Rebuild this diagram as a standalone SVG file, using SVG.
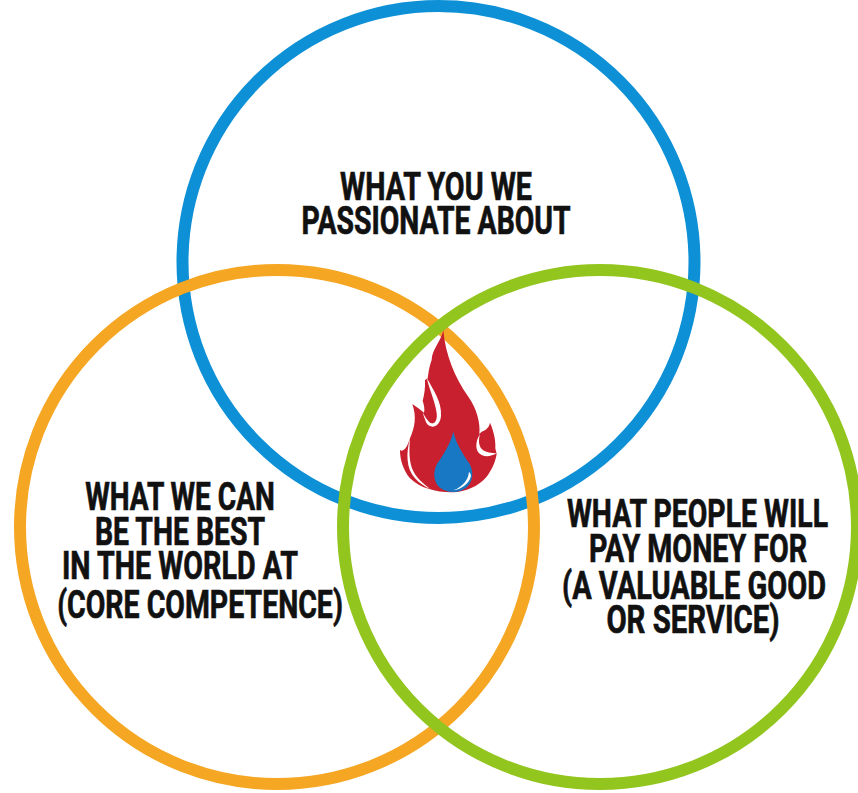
<svg xmlns="http://www.w3.org/2000/svg" width="858" height="793" viewBox="0 0 858 793">
<style>
.ring{fill:none;stroke-width:12}
.t{font-family:"Roboto","Liberation Sans",sans-serif;font-weight:700;font-size:39px;fill:#111;stroke:#111;stroke-width:.7;text-anchor:middle}
.w{fill:#fff}
</style>
<rect width="858" height="793" fill="#fff"/>
<g id="connectors"/>
<g id="node-passion"><circle class="ring" cx="438.500" cy="262" r="256" stroke="#0d90d6"/></g>
<g id="node-best"><circle class="ring" cx="277" cy="527" r="257" stroke="#f5a623"/></g>
<g id="node-money"><circle class="ring" cx="600" cy="527" r="257" stroke="#93c51f"/></g>
<g id="flame" transform="translate(380 310) scale(.3333)">
<path fill="#c8202f" d="M190 60C195 130 225 205 265 260C290 295 302 340 298 372L305 365C320 360 328 350 330 338C340 360 348 390 346 415C348 425 350 430 350 432C345 460 335 480 320 500C295 530 255 545 220 547C170 548 120 535 90 505C70 480 60 450 60 420C72 428 82 410 90 385C105 350 110 320 97 282C108 290 120 298 132 308C135 298 132 285 128 272C133 255 136 235 135 210L143 205C148 170 150 165 155 150C155 120 185 90 190 60Z"/>
<path class="w" d="M140 203C160 240 186 275 183 318C180 352 152 358 140 340C136 332 132 320 128 308C136 320 145 338 155 340C168 342 172 325 170 310C166 275 150 245 140 203Z"/>
<path class="w" d="M90 385C78 430 78 475 105 505C118 520 135 530 150 537C130 520 108 505 96 475C86 445 88 415 90 385Z"/>
<path class="w" d="M300 372C285 395 284 425 305 435C320 442 335 438 350 430C335 430 318 428 306 418C296 408 295 390 300 372Z"/>
<path fill="#1878c4" d="M220 365C212 400 190 435 172 460C158 485 160 515 178 532C198 550 240 552 260 532C280 515 282 485 268 460C250 435 228 400 220 365Z"/>
<path class="w" d="M267 485C265 510 248 530 220 541C245 538 268 520 273 498C273 494 270 488 267 485Z"/>
</g>
<g id="label-passion">
<text class="t" transform="translate(436 200) scale(.75 1)" textLength="256" lengthAdjust="spacingAndGlyphs">WHAT YOU WE</text>
<text class="t" transform="translate(436 234) scale(.75 1)" textLength="359" lengthAdjust="spacingAndGlyphs">PASSIONATE ABOUT</text>
</g>
<g id="label-best">
<text class="t" transform="translate(180 510) scale(.75 1)" textLength="253" lengthAdjust="spacingAndGlyphs">WHAT WE CAN</text>
<text class="t" transform="translate(180 545) scale(.75 1)" textLength="227" lengthAdjust="spacingAndGlyphs">BE THE BEST</text>
<text class="t" transform="translate(180 579) scale(.75 1)" textLength="315" lengthAdjust="spacingAndGlyphs">IN THE WORLD AT</text>
<text class="t" transform="translate(200 618) scale(.75 1)" textLength="381" lengthAdjust="spacingAndGlyphs">(CORE COMPETENCE)</text>
</g>
<g id="label-money">
<text class="t" transform="translate(697.500 527) scale(.75 1)" textLength="348" lengthAdjust="spacingAndGlyphs">WHAT PEOPLE WILL</text>
<text class="t" transform="translate(698 562) scale(.75 1)" textLength="291" lengthAdjust="spacingAndGlyphs">PAY MONEY FOR</text>
<text class="t" transform="translate(694 599) scale(.75 1)" textLength="352" lengthAdjust="spacingAndGlyphs">(A VALUABLE GOOD</text>
<text class="t" transform="translate(693 633) scale(.75 1)" textLength="231" lengthAdjust="spacingAndGlyphs">OR SERVICE)</text>
</g>
</svg>
